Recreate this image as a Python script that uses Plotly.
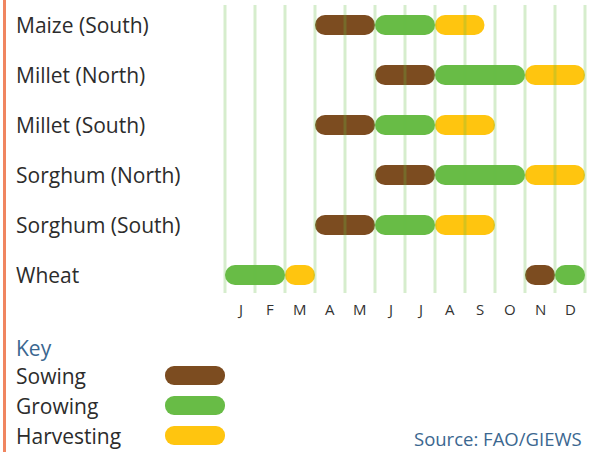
import plotly.graph_objects as go

crops = ["Maize (South)", "Millet (North)", "Millet (South)",
         "Sorghum (North)", "Sorghum (South)", "Wheat"]
months = ["J", "F", "M", "A", "M", "J", "J", "A", "S", "O", "N", "D"]

# months counted from start of January (0) to end of December (12)
sow_crop = ["Maize (South)", "Millet (North)", "Millet (South)", "Sorghum (North)", "Sorghum (South)", "Wheat"]
sow_start = [3, 5, 3, 5, 3, 10]
sow_end = [5, 7, 5, 7, 5, 11]

grow_crop = ["Maize (South)", "Millet (North)", "Millet (South)", "Sorghum (North)", "Sorghum (South)", "Wheat", "Wheat"]
grow_start = [5, 7, 5, 7, 5, 0, 11]
grow_end = [7, 10, 7, 10, 7, 2, 12]

harv_crop = ["Maize (South)", "Millet (North)", "Millet (South)", "Sorghum (North)", "Sorghum (South)", "Wheat"]
harv_start = [7, 10, 7, 10, 7, 2]
harv_end = [8.65, 12, 9, 12, 9, 3]

key_labels = ["Sowing", "Growing", "Harvesting"]
source = "Source: FAO/GIEWS"

BROWN = "#7c4c20"
GREEN = "#68bc46"
YELLOW = "#ffc50f"

W, H = 599, 452
PX_MONTH = 30    # pixels per month
PX_ROW = 50      # pixels per row
X0 = 225         # pixel of start of January
Y0 = 25          # pixel of first row centre

FONT = "Open Sans"


def add_pills(fig, ys, starts, ends, color, width=0.4):
    fig.add_trace(go.Bar(
        orientation="h", y=ys, base=starts, x=[e - s for s, e in zip(starts, ends)],
        width=width, hoverinfo="skip", showlegend=False,
        marker=dict(color=color, cornerradius="50%", line=dict(width=0)),
    ))


fig = go.Figure()

add_pills(fig, [crops.index(c) for c in sow_crop], sow_start, sow_end, BROWN)
add_pills(fig, [crops.index(c) for c in grow_crop], grow_start, grow_end, GREEN)
add_pills(fig, [crops.index(c) for c in harv_crop], harv_start, harv_end, YELLOW)

# key swatches
key_y = [(375.5 - Y0) / PX_ROW, (405.5 - Y0) / PX_ROW, (435.5 - Y0) / PX_ROW]
for ky, col in zip(key_y, [BROWN, GREEN, YELLOW]):
    add_pills(fig, [ky], [-2], [0], col, width=0.38)

# month gridlines
for m in range(len(months) + 1):
    fig.add_shape(type="line", x0=m, x1=m, y0=-0.4, y1=5.36, xref="x", yref="y",
                  line=dict(color="rgba(104,188,70,0.27)", width=3), layer="above")

# left orange border
fig.add_shape(type="line", x0=4.5 / W, x1=4.5 / W, y0=0, y1=1, xref="paper", yref="paper",
              line=dict(color="#f08560", width=3))

annotations = []
for i, c in enumerate(crops):
    annotations.append(dict(x=14 / W, xref="paper", y=i, yref="y", text=c, showarrow=False,
                            xanchor="left", yanchor="middle",
                            font=dict(family=FONT, size=21, color="#2c2c2c")))
for i, m in enumerate(months):
    annotations.append(dict(x=i + 0.5, xref="x", y=(309 - Y0) / PX_ROW, yref="y", text=m,
                            showarrow=False, xanchor="center", yanchor="middle",
                            font=dict(family=FONT, size=15, color="#333333")))
annotations.append(dict(x=14 / W, xref="paper", y=(348 - Y0) / PX_ROW, yref="y", text="Key",
                        showarrow=False, xanchor="left", yanchor="middle",
                        font=dict(family=FONT, size=21, color="#3b6790")))
for ky, lab in zip(key_y, key_labels):
    annotations.append(dict(x=14 / W, xref="paper", y=ky, yref="y", text=lab, showarrow=False,
                            xanchor="left", yanchor="middle",
                            font=dict(family=FONT, size=21, color="#2c2c2c")))
annotations.append(dict(x=584 / W, xref="paper", y=(438 - Y0) / PX_ROW, yref="y", text=source,
                        showarrow=False, xanchor="right", yanchor="middle",
                        font=dict(family=FONT, size=18.5, color="#3b6790")))

fig.update_layout(
    width=W, height=H,
    margin=dict(l=0, r=0, t=0, b=0),
    paper_bgcolor="white", plot_bgcolor="white",
    barmode="overlay",
    showlegend=False,
    annotations=annotations,
    xaxis=dict(range=[-X0 / PX_MONTH, (W - X0) / PX_MONTH], visible=False, fixedrange=True),
    yaxis=dict(range=[(H - Y0) / PX_ROW, -Y0 / PX_ROW], visible=False, fixedrange=True),
)

# the page body has a default 8px margin; drop it so the figure fills the window
fig.write_html("out.html", config={"displayModeBar": False},
               post_script="document.body.style.margin='0';")
